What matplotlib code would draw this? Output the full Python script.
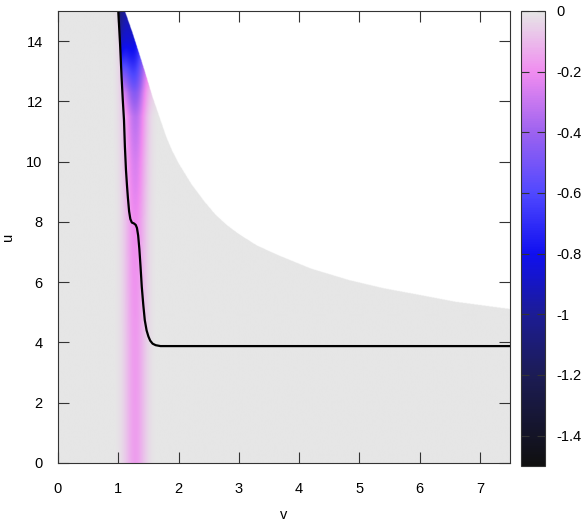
import numpy as np
import matplotlib
matplotlib.use("Agg")
import matplotlib.pyplot as plt
from matplotlib.colors import LinearSegmentedColormap

plt.rcParams['font.family'] = ['Liberation Sans', 'DejaVu Sans']
plt.rcParams['font.size'] = 10.5

# ---- values ----
# white (undefined) region starts above this edge
edge_v = [1.11, 1.24, 1.36, 1.44, 1.56, 1.69, 1.80, 1.89, 2.00, 2.20, 2.40,
          2.61, 2.80, 3.00, 3.30, 3.65, 4.20, 4.83, 5.40, 5.94, 6.60, 7.50]
edge_u = [15.0, 14.25, 13.5, 13.0, 12.2, 11.44, 10.80, 10.38, 9.95, 9.30, 8.75,
          8.25, 7.90, 7.60, 7.22, 6.90, 6.45, 6.07, 5.80, 5.60, 5.35, 5.11]

# black curve
line_v = [1.00, 1.03, 1.055, 1.075, 1.095, 1.11, 1.128, 1.145, 1.16, 1.18,
          1.20, 1.225, 1.26, 1.29, 1.31, 1.33, 1.35, 1.37, 1.39, 1.415,
          1.44, 1.47, 1.50, 1.53, 1.57, 1.62, 1.70, 7.50]
line_u = [15.0, 13.9, 12.8, 12.05, 11.38, 10.5, 9.72, 9.2, 8.8, 8.35,
          8.1, 7.98, 7.95, 7.9, 7.8, 7.55, 7.1, 6.5, 5.85, 5.25,
          4.74, 4.4, 4.2, 4.06, 3.96, 3.91, 3.88, 3.88]

# pink band: centre, width and depth at several heights
band_u = [0.0, 4.0, 8.0, 10.0, 11.5, 12.5, 15.0]
band_depth = [0.16, 0.17, 0.20, 0.26, 0.33, 0.40, 0.45]
band_centre = 1.28
band_width = 0.125

# blue wedge right of the curve near the top
wedge_u = [11.5, 12.3, 13.0, 13.5, 14.0, 15.0]
wedge_depth = [0.0, 0.15, 0.45, 0.7, 0.9, 1.15]
wedge_decay = 0.3

# colour bar
cb_ticks = [0, -0.2, -0.4, -0.6, -0.8, -1.0, -1.2, -1.4]
cb_tick_labels = ['0', '-0.2', '-0.4', '-0.6', '-0.8', '-1', '-1.2', '-1.4']
pal_levels = [-1.5, -1.2, -1.0, -0.8, -0.6, -0.4, -0.2, 0.0]
pal_colors = ['#101010', '#1c1c55', '#1c1c95', '#1010f0', '#5048ff',
              '#9c62f0', '#f08cf0', '#e6e6e6']

# ---- build the field ----
v = np.linspace(0, 7.5, 1201)
u = np.linspace(0, 15, 901)
V, U = np.meshgrid(v, u)

depth = np.interp(U, band_u, band_depth)
Z = -depth * np.exp(-0.5 * ((V - band_centre) / band_width) ** 2)

# curve position at each height (line_u is decreasing, flip for interp)
lu = np.array(line_u[:-1])[::-1]
lv = np.array(line_v[:-1])[::-1]
vline = np.interp(U, lu, lv)
wd = np.interp(U, wedge_u, wedge_depth)
right = V >= vline
Z = Z + np.where(right, -wd * np.exp(-(V - vline) / wedge_decay), 0.0)

eu = np.array(edge_u)[::-1]
ev = np.array(edge_v)[::-1]
vedge = np.interp(U, eu, ev)
Z = np.where(V > vedge, np.nan, Z)
Z = np.clip(Z, -1.5, 0)

lo, hi = pal_levels[0], pal_levels[-1]
cmap = LinearSegmentedColormap.from_list(
    'pal', [((l - lo) / (hi - lo), c) for l, c in zip(pal_levels, pal_colors)])
cmap.set_bad('white')

fig = plt.figure(figsize=(5.88, 5.24), dpi=100)
ax = fig.add_axes([58 / 588, 61 / 524, 452 / 588, 452 / 524])
cax = fig.add_axes([521 / 588, 58 / 524, 24 / 588, 455 / 524])

im = ax.imshow(Z, origin='lower', extent=[0, 7.5, 0, 15], aspect='auto',
               cmap=cmap, vmin=-1.5, vmax=0, interpolation='bilinear')
ax.plot(line_v, line_u, color='black', lw=1.6)

ax.set_xlim(0, 7.5)
ax.set_ylim(0, 15)
ax.set_xticks(range(0, 8))
ax.set_yticks(range(0, 15, 2))
ax.tick_params(direction='in', length=8, top=True, right=True, width=0.8,
               color='#333333')
ax.tick_params(axis='x', pad=14)
ax.tick_params(axis='y', pad=11)
for s in ax.spines.values():
    s.set_color('#333333')
    s.set_linewidth(0.8)
ax.set_xlabel('v', labelpad=8)
ax.set_ylabel('u', labelpad=8)

cb = fig.colorbar(im, cax=cax)
cb.set_ticks(cb_ticks)
cb.set_ticklabels(cb_tick_labels)
cax.tick_params(direction='in', length=6, left=True, right=True, width=0.8,
                color='#333333', pad=8)
cb.outline.set_edgecolor('#333333')
cb.outline.set_linewidth(0.8)

fig.savefig('out.png', dpi=100)
